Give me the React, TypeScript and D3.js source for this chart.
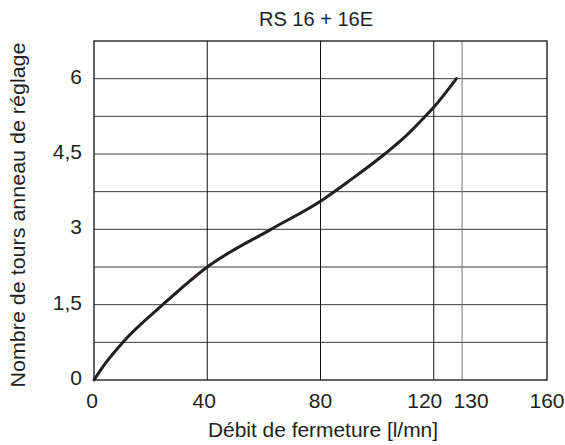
import React, { useEffect, useRef } from 'react';
import * as d3 from 'd3';

// values
const flowValues = [0, 4, 10.2, 24.3, 40, 62.5, 80, 91, 102.7, 110, 117, 120, 128];
const turnValues = [0, 0.33, 0.75, 1.5, 2.25, 3.0, 3.56, 4.0, 4.5, 4.85, 5.25, 5.43, 6.0];
const xTicks = [0, 40, 80, 120, 130, 160];
const xGrid = [40, 80, 120, 130];
const yTicks = [0, 1.5, 3, 4.5, 6];
const yGrid = [0.75, 1.5, 2.25, 3, 3.75, 4.5, 5.25, 6];

const title = 'RS 16 + 16E';
const xLabel = 'Débit de fermeture [l/mn]';
const yLabel = 'Nombre de tours anneau de réglage';

const App: React.FC = () => {
  const svgRef = useRef<SVGSVGElement>(null);

  useEffect(() => {
    if (!svgRef.current) return;
    const svg = d3.select(svgRef.current);
    svg.selectAll('*').remove();

    const width = 565;
    const height = 445;
    const left = 94, right = 547, top = 41, bottom = 380;
    const font = '"Liberation Sans", Arial, Helvetica, sans-serif';

    svg.attr('width', width).attr('height', height)
      .style('font-family', font);

    svg.append('rect').attr('width', width).attr('height', height).attr('fill', '#fff');

    const x = d3.scaleLinear().domain([0, 160]).range([left, right]);
    const y = d3.scaleLinear().domain([0, 6.75]).range([bottom, top]);

    // grid
    svg.append('g').selectAll('line')
      .data(yGrid)
      .join('line')
      .attr('x1', left).attr('x2', right)
      .attr('y1', d => y(d)).attr('y2', d => y(d))
      .attr('stroke', '#3a3a3a').attr('stroke-width', 1);

    svg.append('g').selectAll('line')
      .data(xGrid)
      .join('line')
      .attr('x1', d => x(d)).attr('x2', d => x(d))
      .attr('y1', top).attr('y2', bottom)
      .attr('stroke', d => d === 130 ? '#777' : '#111').attr('stroke-width', 1);

    // frame
    svg.append('rect')
      .attr('x', left).attr('y', top)
      .attr('width', right - left).attr('height', bottom - top)
      .attr('fill', 'none').attr('stroke', '#111').attr('stroke-width', 1.3);

    // curve
    const pts = flowValues.map((f, i) => [f, turnValues[i]] as [number, number]);
    const line = d3.line<[number, number]>()
      .x(d => x(d[0]))
      .y(d => y(d[1]))
      .curve(d3.curveMonotoneX);

    svg.append('path')
      .datum(pts)
      .attr('d', line)
      .attr('fill', 'none')
      .attr('stroke', '#231f20')
      .attr('stroke-width', 3)
      .attr('stroke-linecap', 'round');

    // x tick labels (120 / 130 pushed apart like the original)
    svg.append('g').selectAll('text')
      .data(xTicks)
      .join('text')
      .attr('x', d => x(d) + (d === 120 ? -9 : d === 130 ? 9 : d === 0 ? -2 : d === 40 ? -3 : 0))
      .attr('y', 408)
      .attr('text-anchor', 'middle')
      .attr('font-size', 21)
      .attr('fill', '#231f20')
      .text(d => d);

    // y tick labels
    svg.append('g').selectAll('text')
      .data(yTicks)
      .join('text')
      .attr('x', 82)
      .attr('y', d => y(d) + 5)
      .attr('text-anchor', 'end')
      .attr('font-size', 21)
      .attr('fill', '#231f20')
      .text(d => String(d).replace('.', ','));

    // title
    svg.append('text')
      .attr('x', 316).attr('y', 26)
      .attr('text-anchor', 'middle')
      .attr('font-size', 20)
      .attr('fill', '#231f20')
      .text(title);

    // axis labels
    svg.append('text')
      .attr('x', 323).attr('y', 437)
      .attr('text-anchor', 'middle')
      .attr('font-size', 20)
      .attr('fill', '#231f20')
      .attr('textLength', 230)
      .attr('lengthAdjust', 'spacingAndGlyphs')
      .text(xLabel);

    svg.append('text')
      .attr('transform', 'translate(25,215) rotate(-90)')
      .attr('text-anchor', 'middle')
      .attr('font-size', 20)
      .attr('fill', '#231f20')
      .attr('textLength', 345)
      .attr('lengthAdjust', 'spacingAndGlyphs')
      .text(yLabel);
  }, []);

  return (
    <div style={{ position: 'absolute', left: 0, top: 0 }}>
      <svg ref={svgRef} style={{ display: 'block' }} />
    </div>
  );
};

export default App;
